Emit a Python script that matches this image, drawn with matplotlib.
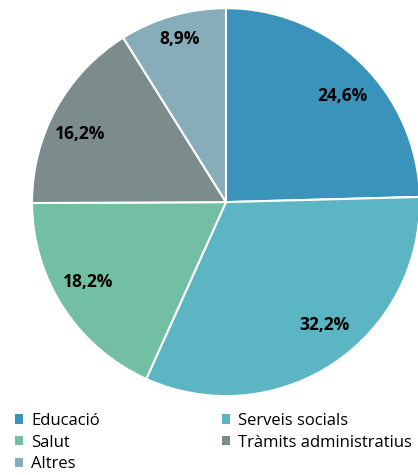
import numpy as np
import matplotlib
matplotlib.use('Agg')
import matplotlib.pyplot as plt
from matplotlib.patches import Patch

# ── Données ─────────────────────────────────────────────
categories = ['Educació', 'Serveis socials', 'Salut', 'Tràmits administratius', 'Altres']
valeurs    = [24.6, 32.2, 18.2, 16.2, 8.9]
etiquettes = ['24,6%', '32,2%', '18,2%', '16,2%', '8,9%']
couleurs   = ['#3993bb', '#5bb5c2', '#72bfa3', '#7c8b8b', '#87adba']

# placement des étiquettes (rayon relatif, décalage angulaire en degrés)
rayons   = [0.81, 0.81, 0.82, 0.83, 0.875]
decalage = [-3.5, 5, -3, 4, 0]

plt.rcParams['font.family'] = ['Open Sans', 'DejaVu Sans']

fig = plt.figure(figsize=(4.18, 4.75), dpi=100)
ax = fig.add_axes([0.0766, 0.166, 0.928, 0.817])

wedges, _ = ax.pie(valeurs, colors=couleurs, startangle=90, counterclock=False,
                   wedgeprops=dict(edgecolor='white', linewidth=1.5))
ax.set_xlim(-1, 1)
ax.set_ylim(-1, 1)
ax.set_aspect('equal')

for w, lab, r, d in zip(wedges, etiquettes, rayons, decalage):
    ang = np.deg2rad((w.theta1 + w.theta2) / 2 + d)
    ax.text(r * np.cos(ang), r * np.sin(ang), lab, ha='center', va='center',
            fontsize=12.5, fontweight='bold', color='black')

# ── Légende ─────────────────────────────────────────────
ordre = [0, 2, 4, 1, 3]
handles = [Patch(facecolor=couleurs[i], edgecolor='none') for i in ordre]
labels = [categories[i] for i in ordre]
fig.legend(handles, labels, ncol=2, loc='upper left', bbox_to_anchor=(0.035, 0.131),
           frameon=False, fontsize=12, handlelength=0.5, handleheight=0.5,
           handletextpad=0.5, labelspacing=0.35, columnspacing=7.3,
           borderpad=0, borderaxespad=0)

fig.savefig('out.png', dpi=100)
